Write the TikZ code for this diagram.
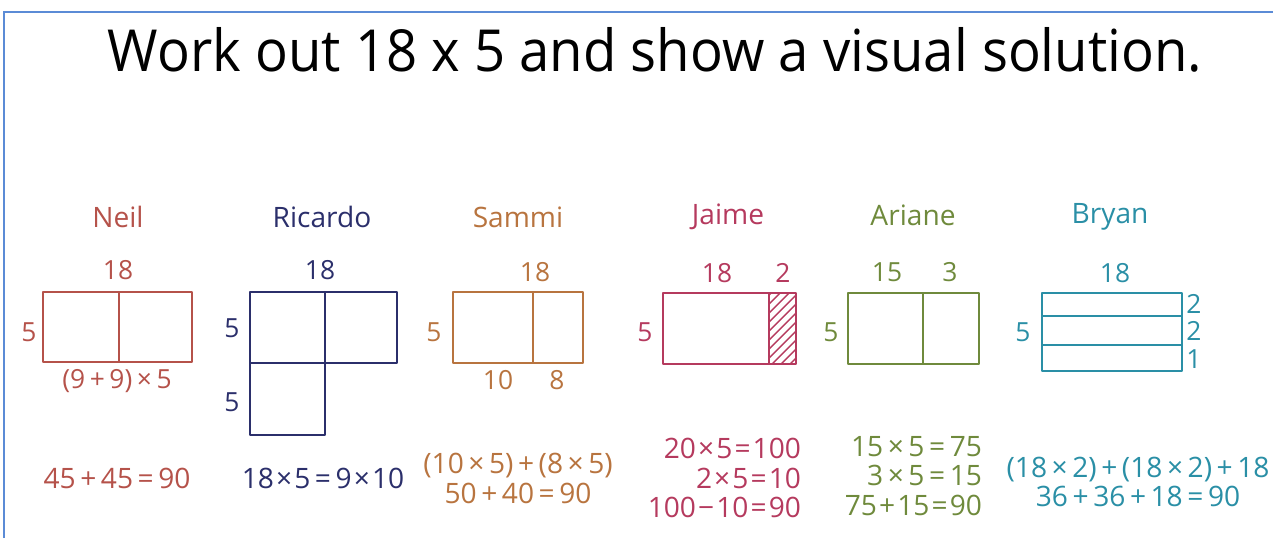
\documentclass[tikz,border=0pt]{standalone}
\usepackage{fontspec}
\setmainfont{Open Sans}
\setsansfont{Open Sans}
\usepackage{tikz}
\usetikzlibrary{positioning}
\definecolor{frameblue}{HTML}{5B8BD6}
\definecolor{neilcol}{HTML}{B5524A}
\definecolor{ricocol}{HTML}{2B2F6B}
\definecolor{sammicol}{HTML}{B8743F}
\definecolor{jaimecol}{HTML}{B53A5E}
\definecolor{arianecol}{HTML}{6F8A3C}
\definecolor{bryancol}{HTML}{2A8FA6}
\newcommand{\gp}{\hspace{2.6pt}}
\newcommand{\gs}{\hspace{1.2pt}}

\begin{document}
\begin{tikzpicture}[x=0.02cm, y=-0.02cm,
    every node/.style={font=\sffamily, inner sep=1pt},
    title/.style={font=\sffamily\fontsize{33}{38}\selectfont, text=black},
    who/.style={font=\sffamily\fontsize{16}{18}\selectfont},
    lab/.style={font=\sffamily\fontsize{15}{17}\selectfont},
    eqn/.style={font=\sffamily\fontsize{16}{17}\selectfont},
    sheet/.style={line width=1.1pt, line join=round}
]
\useasboundingbox (0,0) rectangle (1273,538);
% Frame
\draw[frameblue, line width=1.2pt] (4,538) -- (4,12) -- (1273,12);

% Title
\node[title] (ttl) at (655,50) {\scalebox{0.94}[1]{Work out 18 x 5 and show a visual solution.}};

% Neil
\begin{scope}[neilcol]
\node[who, text=neilcol] (neil) at (118,217) {Neil};
\draw[sheet] (43,292) rectangle (192,362) (119,292) -- (119,362);
\node[lab, text=neilcol] (neil18) at (118,270) {18};
\node[lab, text=neilcol] (neil5) at (29,332) {5};
\node[lab, text=neilcol] (neilsum) at (117,381) {(9\gp+\gp9)\gp×\gp5};
\node[eqn, text=neilcol] (neileq) at (117,478) {45\gp+\gp45\gp=\gp90};
\end{scope}

% Ricardo
\begin{scope}[ricocol]
\node[who, text=ricocol] (rico) at (322,217) {Ricardo};
\draw[sheet] (250,292) rectangle (397,363) (325,292) -- (325,363);
\draw[sheet] (250,363) rectangle (325,435);
\node[lab, text=ricocol] (rico18) at (320,270) {18};
\node[lab, text=ricocol] (rico5a) at (232,328) {5};
\node[lab, text=ricocol] (rico5b) at (232,402) {5};
\node[eqn, text=ricocol] (ricoeq) at (323,478) {18\gs×\gs5\gp=\gp9\gs×\gs10};
\end{scope}

% Sammi
\begin{scope}[sammicol]
\node[who, text=sammicol] (sammi) at (518,217) {Sammi};
\draw[sheet] (453,292) rectangle (583,363) (533,292) -- (533,363);
\node[lab, text=sammicol] (sammi18) at (535,272) {18};
\node[lab, text=sammicol] (sammi5) at (434,332) {5};
\node[lab, text=sammicol] (sammi10) at (498,380) {10};
\node[lab, text=sammicol] (sammi8) at (557,380) {8};
\node[eqn, text=sammicol, align=center] (sammieq) at (518,478)
  {(10\gp×\gp5)\gp+\gp(8\gp×\gp5)\\50\gp+\gp40\gp=\gp90};
\end{scope}

% Jaime
\begin{scope}[jaimecol]
\node[who, text=jaimecol] (jaime) at (728,217) {Jaime};
\begin{scope}
\clip (769,293) rectangle (796,364);
\foreach \k in {0,9,...,117}
  \draw[line width=0.8pt] (760,412-\k) -- ++(50,-50);
\end{scope}
\draw[sheet] (663,293) rectangle (796,364) (769,293) -- (769,364);
\node[lab, text=jaimecol] (jaime18) at (717,273) {18};
\node[lab, text=jaimecol] (jaime2) at (783,273) {2};
\node[lab, text=jaimecol] (jaime5) at (645,332) {5};
\node[eqn, text=jaimecol, align=right, anchor=east] (jaimeeq) at (803,478)
  {20\gs×\gs5\gs=\gs100\\2\gs×\gs5\gs=\gs10\\100\gs−\gs10\gs=\gs90};
\end{scope}

% Ariane
\begin{scope}[arianecol]
\node[who, text=arianecol] (ariane) at (913,215) {Ariane};
\draw[sheet] (848,293) rectangle (979,364) (923,293) -- (923,364);
\node[lab, text=arianecol] (ariane15) at (887,272) {15};
\node[lab, text=arianecol] (ariane3) at (950,272) {3};
\node[lab, text=arianecol] (ariane5) at (831,332) {5};
\node[eqn, text=arianecol, align=right, anchor=east] (arianeeq) at (984,476)
  {15\gp×\gp5\gp=\gp75\\3\gp×\gp5\gp=\gp15\\75\gs+\gs15\gs=\gs90};
\end{scope}

% Bryan
\begin{scope}[bryancol]
\node[who, text=bryancol] (bryan) at (1110,217) {Bryan};
\draw[sheet] (1042,293) rectangle (1182,371) (1042,316) -- (1182,316) (1042,345) -- (1182,345);
\node[lab, text=bryancol] (bryan18) at (1115,273) {18};
\node[lab, text=bryancol] (bryan5) at (1023,332) {5};
\node[lab, text=bryancol] (bryan2a) at (1194,304) {2};
\node[lab, text=bryancol] (bryan2b) at (1194,331) {2};
\node[lab, text=bryancol] (bryan1) at (1194,359) {1};
\node[eqn, text=bryancol, align=center] (bryaneq) at (1138,482)
  {(18\gp×\gp2)\gp+\gp(18\gp×\gp2)\gp+\gp18\\36\gp+\gp36\gp+\gp18\gp=\gp90};
\end{scope}
\end{tikzpicture}
\end{document}
